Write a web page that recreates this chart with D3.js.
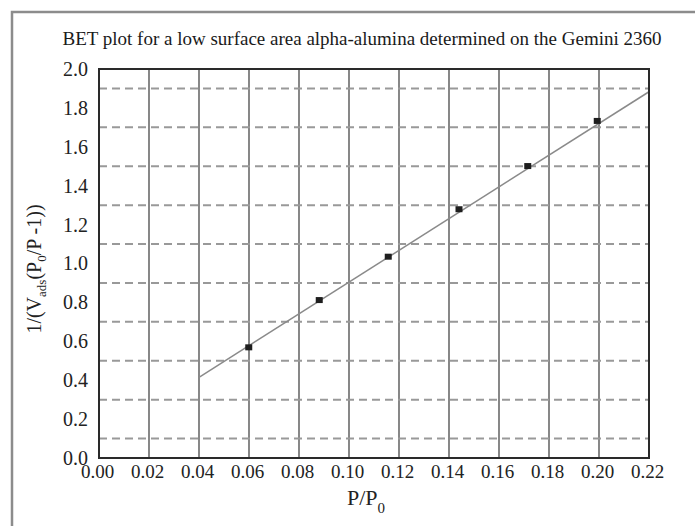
<!DOCTYPE html>
<html>
<head>
<meta charset="utf-8">
<script src="https://cdn.jsdelivr.net/npm/d3@7"></script>
<style>
  body { margin: 0; background: #fff; }
  .axis text { font-family: "Liberation Serif", serif; fill: #222; }
  .axis .domain { display: none; }
</style>
</head>
<body>
<div class="graph"></div>
<script>
// BET data
var pressureRatio = [0.0599, 0.0881, 0.1157, 0.1440, 0.1715, 0.1993]
var betValue = [0.569, 0.812, 1.035, 1.279, 1.501, 1.733]

// fitted line end points
var fitX = [0.04, 0.22]
var fitY = [0.415, 1.883]

var xTicks = [0, 0.02, 0.04, 0.06, 0.08, 0.10, 0.12, 0.14, 0.16, 0.18, 0.20, 0.22]
var yTicks = [0, 0.2, 0.4, 0.6, 0.8, 1.0, 1.2, 1.4, 1.6, 1.8, 2.0]
var yDashed = [0.1, 0.3, 0.5, 0.7, 0.9, 1.1, 1.3, 1.5, 1.7, 1.9]

var titleText = "BET plot for a low surface area alpha-alumina determined on the Gemini 2360"

var width = 695, height = 526
var margin = {top: 69, left: 99, right: 46, bottom: 68}
var chartWidth = width - margin.left - margin.right
var chartHeight = height - margin.top - margin.bottom

var svg = d3.select(".graph").append("svg")
    .attr("width", width)
    .attr("height", height)

var x = d3.scaleLinear().domain([0, 0.22]).range([0, chartWidth])
var y = d3.scaleLinear().domain([0, 2.0]).range([chartHeight, 0])

// outer frame (only top and left edges are visible)
svg.append("path")
    .attr("d", "M12," + height + "V12H" + width)
    .attr("fill", "none")
    .attr("stroke", "#8c8c8c")
    .attr("stroke-width", 2.5)

svg.append("text")
    .attr("x", 362)
    .attr("y", 45)
    .attr("text-anchor", "middle")
    .style("font-family", "'Liberation Serif', serif")
    .attr("font-size", 19)
    .attr("fill", "#1a1a1a")
    .text(titleText)

var chartLayer = svg.append("g")
    .attr("transform", "translate(" + [margin.left, margin.top] + ")")

// vertical solid grid
chartLayer.selectAll(".vgrid")
    .data(xTicks.slice(1, -1))
    .enter().append("line")
    .attr("class", "vgrid")
    .attr("x1", function(d) { return x(d) })
    .attr("x2", function(d) { return x(d) })
    .attr("y1", 0)
    .attr("y2", chartHeight)
    .attr("stroke", "#6a6a6a")
    .attr("stroke-width", 1.6)

// horizontal dashed grid
chartLayer.selectAll(".hgrid")
    .data(yDashed)
    .enter().append("line")
    .attr("class", "hgrid")
    .attr("x1", 0)
    .attr("x2", chartWidth)
    .attr("y1", function(d) { return y(d) })
    .attr("y2", function(d) { return y(d) })
    .attr("stroke", "#999")
    .attr("stroke-width", 2)
    .attr("stroke-dasharray", "8,5")

// fitted line
var fitLine = d3.line()
    .x(function(d) { return x(d[0]) })
    .y(function(d) { return y(d[1]) })

chartLayer.append("path")
    .datum(d3.zip(fitX, fitY))
    .attr("d", fitLine)
    .attr("fill", "none")
    .attr("stroke", "#8a8a8a")
    .attr("stroke-width", 1.5)

// data points
chartLayer.selectAll(".pt")
    .data(d3.zip(pressureRatio, betValue))
    .enter().append("rect")
    .attr("class", "pt")
    .attr("x", function(d) { return x(d[0]) - 3.5 })
    .attr("y", function(d) { return y(d[1]) - 3 })
    .attr("width", 7)
    .attr("height", 6)
    .attr("fill", "#1e1e1e")

// plot border
chartLayer.append("rect")
    .attr("width", chartWidth)
    .attr("height", chartHeight)
    .attr("fill", "none")
    .attr("stroke", "#2a2a2a")
    .attr("stroke-width", 2)

// axes
var yAxis = d3.axisLeft(y)
    .tickValues(yTicks)
    .tickSize(0)
    .tickPadding(11)
    .tickFormat(d3.format(".1f"))

chartLayer.append("g")
    .attr("class", "axis y")
    .call(yAxis)
    .selectAll("text")
    .attr("font-size", 20)

var xAxis = d3.axisBottom(x)
    .tickValues(xTicks)
    .tickSize(0)
    .tickPadding(7)
    .tickFormat(d3.format(".2f"))

chartLayer.append("g")
    .attr("class", "axis x")
    .attr("transform", "translate(0," + chartHeight + ")")
    .call(xAxis)
    .selectAll("text")
    .attr("font-size", 19)
    .attr("dx", -2)

// x axis label P/P0
var xLabel = svg.append("text")
    .attr("x", 366)
    .attr("y", 505)
    .attr("text-anchor", "middle")
    .style("font-family", "'Liberation Serif', serif")
    .attr("font-size", 22)
    .attr("fill", "#222")
xLabel.append("tspan").text("P/P")
xLabel.append("tspan").attr("font-size", 15).attr("dy", 8).text("0")

// y axis label
var yLabel = svg.append("text")
    .attr("transform", "translate(41,269) rotate(-90)")
    .attr("text-anchor", "middle")
    .style("font-family", "'Liberation Serif', serif")
    .attr("font-size", 20)
    .attr("fill", "#222")
yLabel.append("tspan").text("1/(V")
yLabel.append("tspan").attr("font-size", 13).attr("dy", 5).text("ads")
yLabel.append("tspan").attr("dy", -5).text("(P")
yLabel.append("tspan").attr("font-size", 13).attr("dy", 5).text("0")
yLabel.append("tspan").attr("dy", -5).text("/P -1))")
</script>
</body>
</html>
